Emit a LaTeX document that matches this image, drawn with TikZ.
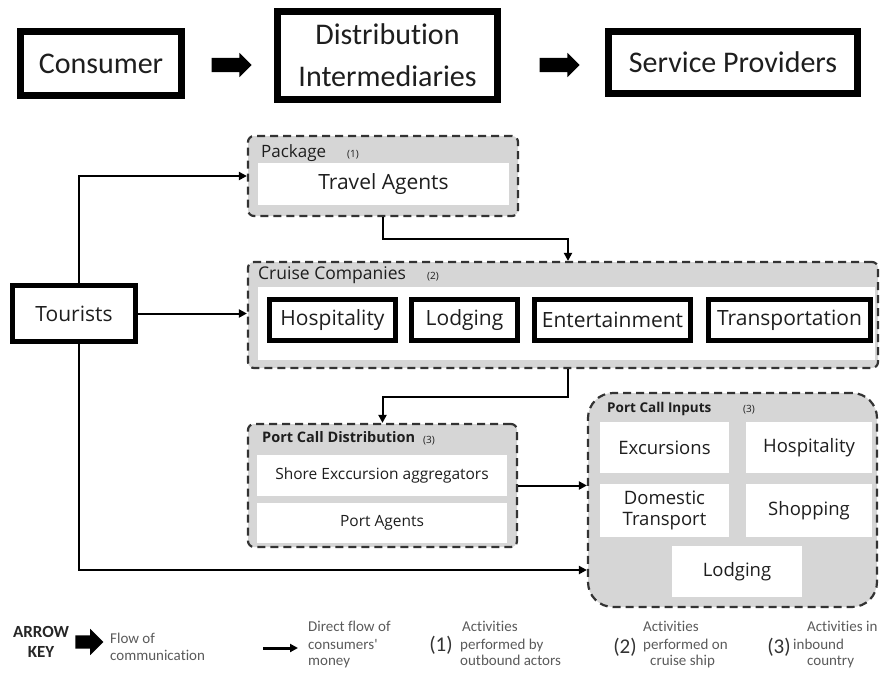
\documentclass[tikz,border=0pt]{standalone}
\usepackage{fontspec}
\setmainfont{Open Sans}
\newfontfamily\calfont[Ligatures=NoCommon]{Carlito}
\usetikzlibrary{arrows.meta,shapes.arrows}
\definecolor{grpgray}{HTML}{D6D6D6}
\definecolor{txt}{HTML}{1E1E1E}
\definecolor{keytxt}{HTML}{5A5A5A}
\newcommand{\fsz}[2]{\fontsize{#1}{#2}\selectfont}
\tikzset{
  topbox/.style={draw=black, line width=7pt, fill=white, inner sep=0pt, text=txt, font=\calfont\fsz{30}{42}, align=center},
  grp/.style={draw=black!80, dash pattern=on 8pt off 5pt, line width=2.2pt, fill=grpgray, rounded corners=6pt, inner sep=0pt},
  wbox/.style={fill=white, inner sep=0pt, text=txt, align=center},
  thickbox/.style={draw=black, line width=5pt, fill=white, inner sep=0pt, text=txt, font=\fsz{21}{25}},
  conn/.style={line width=2pt, -{Triangle[length=8pt,width=8pt]}},
  blockarrow/.style={single arrow, fill=black, draw=none, inner xsep=0pt, inner ysep=7pt, single arrow head extend=5pt, single arrow tip angle=90},
  grptitle/.style={anchor=base west, inner sep=0pt, text=txt},
  grpnum/.style={anchor=base west, inner sep=0pt, text=txt, font=\fsz{10}{12}},
  keyline/.style={anchor=base west, inner sep=0pt, text=keytxt, font=\calfont\fsz{15}{17}},
  keynum/.style={inner sep=0pt, text=black!80, font=\calfont\fsz{21}{24}}
}
\begin{document}
\begin{tikzpicture}[x=1pt,y=-1pt]
\path[use as bounding box] (0,0) rectangle (880,672);

% ---------- top row ----------
\node[topbox, minimum width=161pt, minimum height=64pt] (consumer) at (101,63.5) {Consumer};
\node[topbox, minimum width=220pt, minimum height=88pt] (dist) at (387.5,55.5) {Distribution\\Intermediaries};
\node[topbox, minimum width=249pt, minimum height=62pt] (service) at (733,62.5) {Service Providers};
\node[blockarrow, minimum height=40pt] (arr1) at (228,65) {};
\node[blockarrow, minimum height=40pt] (arr2) at (556,65) {};

% ---------- Package ----------
\node[grp, minimum width=270pt, minimum height=80pt] (pkg) at (383,176) {};
\node[grptitle, font=\fsz{17}{20}] (pkgt) at (261,157) {Package};
\node[grpnum] (pkgn) at (347,157) {(1)};
\node[wbox, minimum width=251pt, minimum height=42pt, font=\fsz{21}{25}] (travel) at (383.5,184) {Travel Agents};

% ---------- Cruise companies ----------
\node[grp, minimum width=630pt, minimum height=106pt] (cruise) at (563,315) {};
\node[grptitle, font=\fsz{17.5}{20}] (cruiset) at (258,279) {Cruise Companies};
\node[grpnum] (cruisen) at (427,279) {(2)};
\node[wbox, minimum width=617pt, minimum height=73pt] (band) at (566.5,323.5) {};
\node[thickbox, minimum width=126pt, minimum height=41pt] (hosp1) at (332.5,320) {Hospitality};
\node[thickbox, minimum width=106pt, minimum height=41pt] (lodg1) at (464.5,320) {Lodging};
\node[thickbox, minimum width=156pt, minimum height=41pt] (ent) at (612.5,320) {Entertainment};
\node[thickbox, minimum width=162pt, minimum height=41pt] (trans) at (789.5,320) {Transportation};

% ---------- Tourists ----------
\node[thickbox, minimum width=123pt, minimum height=56pt] (tour) at (74,313.5) {Tourists};

% ---------- Port Call Distribution ----------
\node[grp, minimum width=269pt, minimum height=123pt] (pcd) at (382.5,485.5) {};
\node[grptitle, font=\bfseries\fsz{14.5}{17}] (pcdt) at (262,442) {Port Call Distribution};
\node[grpnum] (pcdn) at (423,443) {(3)};
\node[wbox, minimum width=250pt, minimum height=41pt, font=\fsz{15.5}{18}] (shore) at (382,475.5) {Shore Exccursion aggregators};
\node[wbox, minimum width=250pt, minimum height=40pt, font=\fsz{15.5}{18}] (portag) at (382,523) {Port Agents};

% ---------- Port Call Inputs ----------
\node[grp, rounded corners=25pt, minimum width=289pt, minimum height=214pt] (pci) at (732.5,500) {};
\node[grptitle, font=\bfseries\fsz{13.5}{16}] (pcit) at (607,412) {Port Call Inputs};
\node[grpnum] (pcin) at (743,412) {(3)};
\node[wbox, minimum width=129pt, minimum height=51pt, font=\fsz{18.5}{21}] (exc) at (664.5,447.5) {Excursions};
\node[wbox, minimum width=126pt, minimum height=51pt, font=\fsz{18.5}{21}] (hosp2) at (809,447.5) {Hospitality};
\node[wbox, minimum width=129pt, minimum height=53pt, font=\fsz{18.5}{21}] (dom) at (664.5,510.5) {Domestic\\Transport};
\node[wbox, minimum width=126pt, minimum height=53pt, font=\fsz{18.5}{21}] (shop) at (809,510.5) {Shopping};
\node[wbox, minimum width=130pt, minimum height=51pt, font=\fsz{18.5}{21}] (lodg2) at (737,571.5) {Lodging};

% ---------- connectors ----------
\coordinate (j1) at (568,239);
\coordinate (j2) at (568,397);
\coordinate (j3) at (79,570);
\draw[conn] ([xshift=5pt]tour.north) |- (pkg.west);
\draw[conn] (tour.east) -- (tour.east -| cruise.west);
\draw[conn] (pkg.south) |- (j1) -- (j1 |- cruise.north);
\draw[conn] (cruise.south -| j2) -- (j2) -| (pcd.north);
\draw[conn] (pcd.east) -- (pcd.east -| pci.west);
\draw[conn] ([xshift=5pt]tour.south) -- (j3) -- (j3 -| pci.west);

% ---------- key ----------
\node[inner sep=0pt, font=\calfont\bfseries\fsz{17}{20}, text=black!85, align=center] (keyt) at (41,642) {ARROW\\KEY};
\node[blockarrow, inner ysep=6.5pt, single arrow head extend=6.5pt, minimum height=28pt] (keyarr) at (86,642) {};
\node[keyline] (k1a) at (110,643) {Flow of};
\node[keyline] (k1b) at (110,660) {communication};
\coordinate (ka) at (263,648);
\coordinate (kb) at (298,648);
\draw[conn, line width=3pt] (ka) -- (kb);
\node[keyline] (k2a) at (308,631) {Direct flow of};
\node[keyline] (k2b) at (308,649) {consumers'};
\node[keyline] (k2c) at (308,665) {money};
\node[keynum] (n1) at (441,645) {(1)};
\node[keyline] (k3a) at (462,631) {Activities};
\node[keyline] (k3b) at (460,649) {performed by};
\node[keyline] (k3c) at (460,665) {outbound actors};
\node[keynum] (n2) at (625,647) {(2)};
\node[keyline] (k4a) at (643,631) {Activities};
\node[keyline] (k4b) at (643,649) {performed on};
\node[keyline] (k4c) at (650,665) {cruise ship};
\node[keynum] (n3) at (779,647) {(3)};
\node[keyline] (k5a) at (807,631) {Activities in};
\node[keyline] (k5b) at (793,649) {inbound};
\node[keyline] (k5c) at (807,665) {country};
\end{tikzpicture}
\end{document}
